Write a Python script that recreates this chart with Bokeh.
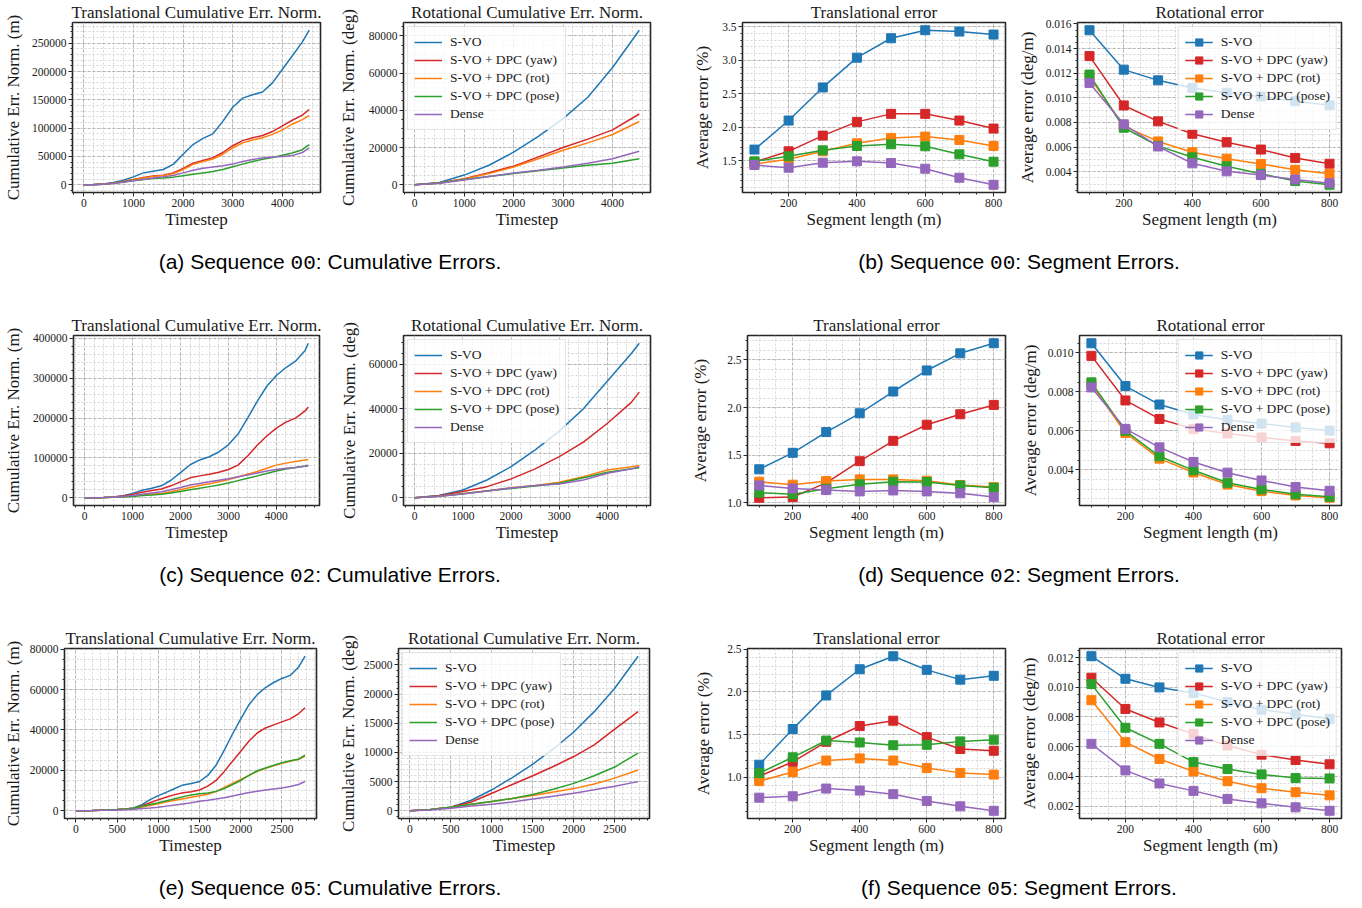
from bokeh.plotting import figure
from bokeh.layouts import row, column
from bokeh.models import Div, Range1d, SingleIntervalTicker, NumeralTickFormatter
from bokeh.embed import file_html
from bokeh.resources import INLINE

NAMES = ["S-VO", "S-VO + DPC (yaw)", "S-VO + DPC (rot)", "S-VO + DPC (pose)", "Dense"]
COLORS = ["#1f77b4", "#d62728", "#ff7f0e", "#2ca02c", "#9467bd"]

# ---------------- cumulative errors ----------------
T00_TRANS = [0, 200, 400, 600, 800, 1000, 1200, 1400, 1600, 1800, 2000, 2200, 2400, 2600, 2800,
             3000, 3200, 3400, 3600, 3800, 4000, 4200, 4400, 4540]
S00_TRANS_SVO = [0, 300, 1500, 4000, 8000, 14000, 21000, 24000, 27000, 36000, 54000, 71000, 82000, 90000,
                 112000, 137000, 153000, 159000, 164000, 180000, 204000, 228000, 252000, 273000]
S00_TRANS_YAW = [0, 300, 1200, 3000, 6000, 9500, 13000, 15500, 17000, 21000, 29000, 38000, 43000, 48000,
                 57000, 69000, 78000, 83000, 87000, 94000, 104000, 114000, 123000, 133000]
S00_TRANS_ROT = [0, 300, 1100, 2800, 5500, 9000, 12000, 14500, 16500, 19500, 27000, 36000, 41000, 45500,
                 54000, 65000, 74000, 79000, 83000, 89000, 97000, 107000, 115000, 122000]
S00_TRANS_POSE = [0, 200, 900, 2500, 5000, 7500, 9500, 11000, 12000, 13500, 16000, 18500, 21000, 23500,
                  27000, 32000, 36500, 41000, 45000, 48000, 52000, 56000, 62000, 71000]
S00_TRANS_DENSE = [0, 200, 900, 2500, 4500, 7000, 9500, 12000, 14000, 16500, 21000, 25500, 29000, 31500,
                   33500, 36500, 41000, 44500, 47500, 49000, 50000, 51500, 57000, 65000]

T00_ROT = [0, 500, 1000, 1500, 2000, 2500, 3000, 3500, 4000, 4540]
S00_ROT_SVO = [0, 1200, 5200, 10500, 17500, 26000, 35500, 47000, 63000, 83000]
S00_ROT_YAW = [0, 1000, 3300, 6500, 10000, 15000, 20000, 24500, 29500, 38000]
S00_ROT_ROT = [0, 900, 3100, 6000, 9500, 14000, 18500, 22500, 27000, 34000]
S00_ROT_POSE = [0, 900, 2800, 4500, 6000, 7500, 9000, 10500, 11500, 14000]
S00_ROT_DENSE = [0, 800, 2600, 4500, 6300, 7800, 9500, 11500, 14000, 18000]

T02_TRANS = [0, 200, 400, 600, 800, 1000, 1200, 1400, 1600, 1800, 2000, 2200, 2400, 2600, 2800,
             3000, 3200, 3400, 3600, 3800, 4000, 4200, 4400, 4600, 4667]
S02_TRANS_SVO = [0, 200, 800, 2000, 5000, 11000, 19000, 24000, 30000, 44000, 63000, 83000, 95000, 103000,
                 115000, 133000, 160000, 200000, 242000, 280000, 307000, 327000, 343000, 370000, 388000]
S02_TRANS_YAW = [0, 200, 700, 1800, 4500, 8500, 14000, 18000, 22000, 30000, 40000, 50000, 55000, 59000,
                 64000, 71000, 82000, 105000, 132000, 155000, 175000, 190000, 200000, 218000, 228000]
S02_TRANS_ROT = [0, 100, 500, 1200, 2500, 4500, 7000, 9000, 11000, 15000, 20000, 26000, 31000, 35000,
                 40000, 46000, 52000, 59000, 66000, 74000, 82000, 87000, 91000, 95000, 96000]
S02_TRANS_POSE = [0, 100, 400, 1000, 2000, 3500, 5500, 7000, 9000, 12000, 16000, 20000, 24000, 28000,
                  32000, 37000, 43000, 49000, 55000, 61000, 67000, 72000, 76000, 80000, 82000]
S02_TRANS_DENSE = [0, 100, 500, 1300, 3000, 5500, 9000, 12000, 15000, 20000, 26000, 32000, 36000, 40000,
                   44000, 48000, 53000, 57000, 62000, 67000, 71000, 74000, 76000, 79000, 80000]

T02_ROT = [0, 500, 1000, 1500, 2000, 2500, 3000, 3500, 4000, 4500, 4660]
S02_ROT_SVO = [0, 1000, 3500, 8000, 14000, 21500, 30000, 40000, 52500, 65000, 69500]
S02_ROT_YAW = [0, 900, 2800, 5000, 8500, 13000, 18500, 25000, 33500, 43000, 47500]
S02_ROT_ROT = [0, 700, 1800, 3200, 4500, 5500, 7000, 9500, 12500, 14000, 14500]
S02_ROT_POSE = [0, 700, 1800, 3000, 4200, 5300, 6500, 9000, 11500, 13000, 13500]
S02_ROT_DENSE = [0, 700, 1700, 3000, 4400, 5500, 6200, 8000, 11000, 13000, 14000]

T05_TRANS = [0, 100, 200, 300, 400, 500, 600, 700, 800, 900, 1000, 1100, 1200, 1300, 1400, 1500,
             1600, 1700, 1800, 1900, 2000, 2100, 2200, 2300, 2400, 2500, 2600, 2700, 2780]
S05_TRANS_SVO = [0, 50, 150, 300, 450, 600, 900, 1400, 3000, 5500, 7500, 9200, 11000, 12800, 13500, 14500,
                 17500, 22500, 30000, 38000, 45500, 52500, 57500, 61000, 63500, 65500, 67000, 71000, 76500]
S05_TRANS_YAW = [0, 50, 150, 300, 450, 600, 850, 1300, 2500, 4000, 5500, 6800, 8000, 8900, 9400, 10300,
                 12200, 15000, 19500, 24500, 29500, 34500, 38500, 41000, 42500, 44000, 45500, 48000, 51000]
S05_TRANS_ROT = [0, 50, 150, 300, 450, 600, 850, 1200, 1800, 2600, 3500, 4400, 5200, 6000, 6700, 7400,
                 8200, 9500, 11500, 13500, 15500, 17500, 19500, 21000, 22300, 23500, 24500, 25500, 27000]
S05_TRANS_POSE = [0, 50, 150, 300, 450, 600, 900, 1300, 2200, 3100, 4000, 5000, 6000, 7000, 7800, 8400,
                  8800, 9600, 11000, 13000, 15000, 17500, 19800, 21200, 22500, 23800, 24800, 25500, 27500]
S05_TRANS_DENSE = [0, 30, 100, 200, 300, 400, 550, 800, 1100, 1400, 1800, 2300, 2800, 3400, 4000, 4700,
                   5200, 5800, 6500, 7300, 8200, 9000, 9700, 10300, 10800, 11300, 12000, 13000, 14500]

T05_ROT = [0, 250, 500, 750, 1000, 1250, 1500, 1750, 2000, 2250, 2500, 2785]
S05_ROT_SVO = [0, 200, 600, 1800, 3600, 5700, 8000, 10600, 13500, 17000, 21000, 26500]
S05_ROT_YAW = [0, 200, 600, 1500, 3000, 4500, 6000, 7600, 9300, 11300, 14000, 17000]
S05_ROT_ROT = [0, 200, 600, 1100, 1600, 2100, 2600, 3200, 3800, 4600, 5600, 7000]
S05_ROT_POSE = [0, 200, 600, 1100, 1600, 2100, 2800, 3700, 4700, 6000, 7500, 9900]
S05_ROT_DENSE = [0, 150, 450, 800, 1100, 1500, 2000, 2500, 3000, 3600, 4200, 5000]

# ---------------- segment errors ----------------
SEG_LEN = [100, 200, 300, 400, 500, 600, 700, 800]

SEG00_TRANS_SVO = [1.666, 2.10, 2.595, 3.04, 3.33, 3.45, 3.43, 3.385]
SEG00_TRANS_YAW = [1.48, 1.64, 1.875, 2.08, 2.20, 2.20, 2.10, 1.98]
SEG00_TRANS_ROT = [1.45, 1.52, 1.64, 1.76, 1.84, 1.86, 1.81, 1.72]
SEG00_TRANS_POSE = [1.49, 1.565, 1.655, 1.72, 1.745, 1.715, 1.595, 1.485]
SEG00_TRANS_DENSE = [1.435, 1.395, 1.47, 1.49, 1.465, 1.38, 1.245, 1.14]

SEG00_ROT_SVO = [0.01549, 0.01229, 0.01142, 0.01079, 0.01041, 0.01011, 0.00973, 0.0094]
SEG00_ROT_YAW = [0.01339, 0.00938, 0.00809, 0.00708, 0.0064, 0.0058, 0.00512, 0.00465]
SEG00_ROT_ROT = [0.0117, 0.0077, 0.00646, 0.00558, 0.00506, 0.00463, 0.00416, 0.00384]
SEG00_ROT_POSE = [0.01189, 0.00757, 0.0061, 0.00517, 0.00444, 0.00384, 0.00324, 0.00294]
SEG00_ROT_DENSE = [0.0112, 0.00785, 0.00605, 0.00468, 0.00403, 0.00373, 0.00337, 0.00307]

SEG02_TRANS_SVO = [1.352, 1.525, 1.743, 1.94, 2.169, 2.39, 2.57, 2.676]
SEG02_TRANS_YAW = [1.053, 1.06, 1.21, 1.437, 1.651, 1.82, 1.93, 2.028]
SEG02_TRANS_ROT = [1.222, 1.19, 1.229, 1.246, 1.246, 1.232, 1.187, 1.165]
SEG02_TRANS_POSE = [1.106, 1.09, 1.148, 1.194, 1.222, 1.218, 1.183, 1.158]
SEG02_TRANS_DENSE = [1.183, 1.15, 1.134, 1.12, 1.13, 1.12, 1.10, 1.06]

SEG02_ROT_SVO = [0.0105, 0.0083, 0.00735, 0.00684, 0.00655, 0.00637, 0.00617, 0.00601]
SEG02_ROT_YAW = [0.00985, 0.00756, 0.00661, 0.0061, 0.00586, 0.00566, 0.00548, 0.00536]
SEG02_ROT_ROT = [0.0084, 0.00589, 0.00457, 0.00386, 0.00324, 0.0029, 0.00268, 0.00256]
SEG02_ROT_POSE = [0.00849, 0.006, 0.00469, 0.00397, 0.00333, 0.00299, 0.00274, 0.00261]
SEG02_ROT_DENSE = [0.00823, 0.0061, 0.00515, 0.0044, 0.00385, 0.00345, 0.00311, 0.00292]

SEG05_TRANS_SVO = [1.146, 1.565, 1.96, 2.267, 2.42, 2.26, 2.145, 2.19]
SEG05_TRANS_YAW = [1.01, 1.18, 1.415, 1.60, 1.663, 1.47, 1.33, 1.31]
SEG05_TRANS_ROT = [0.953, 1.06, 1.195, 1.22, 1.195, 1.107, 1.05, 1.03]
SEG05_TRANS_POSE = [1.047, 1.233, 1.43, 1.407, 1.375, 1.38, 1.42, 1.44]
SEG05_TRANS_DENSE = [0.759, 0.775, 0.866, 0.842, 0.80, 0.72, 0.657, 0.605]

SEG05_ROT_SVO = [0.01209, 0.01057, 0.00999, 0.00962, 0.00901, 0.00849, 0.00818, 0.00788]
SEG05_ROT_YAW = [0.01064, 0.00854, 0.00763, 0.00686, 0.00607, 0.00546, 0.0051, 0.00481]
SEG05_ROT_ROT = [0.00913, 0.0063, 0.00517, 0.00433, 0.00367, 0.0032, 0.00293, 0.00272]
SEG05_ROT_POSE = [0.01021, 0.00727, 0.00619, 0.00496, 0.00449, 0.00413, 0.00388, 0.00386]
SEG05_ROT_DENSE = [0.00619, 0.0044, 0.00352, 0.00302, 0.00248, 0.00218, 0.00191, 0.00168]

# ---------------- text ----------------
TITLE_TC = "Translational Cumulative Err. Norm."
TITLE_RC = "Rotational Cumulative Err. Norm."
TITLE_TS = "Translational error"
TITLE_RS = "Rotational error"
XLAB_T = "Timestep"
XLAB_S = "Segment length (m)"
YLAB_TC = "Cumulative Err. Norm. (m)"
YLAB_RC = "Cumulative Err. Norm. (deg)"
YLAB_TS = "Average error (%)"
YLAB_RS = "Average error (deg/m)"
CAP_LABELS = ["a", "b", "c", "d", "e", "f"]
SEQS = ["00", "02", "05"]
CAP_KINDS = ["Cumulative Errors.", "Segment Errors."]

SERIF = "Liberation Serif"
TXT = "#1a1a1a"
FIG_H = 231
TOP = 21
BOT = 38


def make_fig(title, xlabel, ylabel, xs, ys_list, w, bl, br, xt, xm, yt, ym, yfmt, ystand,
             legend=None, markers=False):
    xlo, xhi = min(xs), max(xs)
    xp = 0.05 * (xhi - xlo)
    ylo = min(min(y) for y in ys_list)
    yhi = max(max(y) for y in ys_list)
    yp = 0.05 * (yhi - ylo)
    p = figure(width=w, height=FIG_H, x_range=Range1d(xlo - xp, xhi + xp),
               y_range=Range1d(ylo - yp, yhi + yp), output_backend="svg",
               toolbar_location=None, min_border_left=bl, min_border_right=br,
               min_border_top=TOP, min_border_bottom=BOT, title=title)
    p.title.text_font = SERIF
    p.title.text_font_size = "17px"
    p.title.text_font_style = "normal"
    p.title.text_color = TXT
    p.title.align = "center"
    p.title.standoff = 1
    p.outline_line_color = "#262626"
    p.outline_line_width = 1.6
    p.background_fill_color = "white"
    p.border_fill_color = "white"

    xtick = SingleIntervalTicker(interval=xt, num_minor_ticks=xm)
    ytick = SingleIntervalTicker(interval=yt, num_minor_ticks=ym)
    p.xaxis.ticker = xtick
    p.yaxis.ticker = ytick
    p.xgrid.ticker = xtick
    p.ygrid.ticker = ytick
    p.xaxis.formatter = NumeralTickFormatter(format="0")
    p.yaxis.formatter = NumeralTickFormatter(format=yfmt)
    for ax in (p.xaxis, p.yaxis):
        ax.axis_line_color = None
        ax.major_tick_line_color = "#262626"
        ax.minor_tick_line_color = "#262626"
        ax.major_tick_out = 4
        ax.major_tick_in = 0
        ax.minor_tick_out = 2
        ax.minor_tick_in = 0
        ax.major_label_text_font = SERIF
        ax.major_label_text_font_size = "11.5px"
        ax.major_label_text_color = TXT
        ax.major_label_standoff = 2
        ax.axis_label_text_font = SERIF
        ax.axis_label_text_font_size = "17px"
        ax.axis_label_text_font_style = "normal"
        ax.axis_label_text_color = TXT
    p.xaxis.axis_label = xlabel
    p.yaxis.axis_label = ylabel
    p.xaxis.axis_label_standoff = 0
    p.yaxis.axis_label_standoff = ystand
    for g in (p.xgrid, p.ygrid):
        g.grid_line_color = "#a8a8a8"
        g.grid_line_dash = "3 2"
        g.grid_line_width = 0.8
        g.minor_grid_line_color = "#c4c4c4"
        g.minor_grid_line_dash = "2 2"
        g.minor_grid_line_width = 0.7

    for i, ys in enumerate(ys_list):
        kw = {}
        if legend:
            kw["legend_label"] = NAMES[i]
        p.line(xs, ys, line_color=COLORS[i], line_width=1.5, **kw)
        if markers:
            p.scatter(xs, ys, marker="square", size=9, fill_color=COLORS[i],
                      line_color=COLORS[i], **kw)
    if legend:
        lg = p.legend[0]
        lg.location = legend
        lg.margin = 4
        lg.padding = 6
        lg.spacing = 0
        lg.label_height = 18
        lg.glyph_height = 18
        lg.glyph_width = 28
        lg.label_standoff = 8
        lg.label_text_font = SERIF
        lg.label_text_font_size = "13.5px"
        lg.label_text_color = TXT
        lg.border_line_color = "#cccccc"
        lg.border_line_width = 1
        lg.background_fill_color = "white"
        lg.background_fill_alpha = 0.8
    return p


def caption(label, seq, kind, w, pad_left, h, pt):
    html = ('<div style="width:%dpx;box-sizing:border-box;padding-left:%dpx;padding-top:%dpx;'
            'text-align:center;font-family:\'Liberation Sans\',Arial,sans-serif;font-size:21px;'
            'line-height:24px;color:#000;white-space:nowrap;">(%s) Sequence '
            '<span style="font-family:\'Liberation Mono\',monospace;">%s</span>: %s</div>'
            % (w, pad_left, pt, label, seq, kind))
    return Div(text=html, width=w, height=h, margin=0)


# row 1 : sequence 00
a1 = make_fig(TITLE_TC, XLAB_T, YLAB_TC, T00_TRANS,
              [S00_TRANS_SVO, S00_TRANS_YAW, S00_TRANS_ROT, S00_TRANS_POSE, S00_TRANS_DENSE],
              335, 71, 15, 1000, 5, 50000, 5, "0", 6)
a2 = make_fig(TITLE_RC, XLAB_T, YLAB_RC, T00_ROT,
              [S00_ROT_SVO, S00_ROT_YAW, S00_ROT_ROT, S00_ROT_POSE, S00_ROT_DENSE],
              345, 68, 30, 1000, 5, 20000, 4, "0", 8, legend="top_left")
b1 = make_fig(TITLE_TS, XLAB_S, YLAB_TS, SEG_LEN,
              [SEG00_TRANS_SVO, SEG00_TRANS_YAW, SEG00_TRANS_ROT, SEG00_TRANS_POSE, SEG00_TRANS_DENSE],
              330, 62, 5, 200, 4, 0.5, 5, "0.0", 7, markers=True)
b2 = make_fig(TITLE_RS, XLAB_S, YLAB_RS, SEG_LEN,
              [SEG00_ROT_SVO, SEG00_ROT_YAW, SEG00_ROT_ROT, SEG00_ROT_POSE, SEG00_ROT_DENSE],
              346, 67, 15, 200, 4, 0.002, 4, "0.000", 6, legend="top_right", markers=True)

# row 2 : sequence 02
c1 = make_fig(TITLE_TC, XLAB_T, YLAB_TC, T02_TRANS,
              [S02_TRANS_SVO, S02_TRANS_YAW, S02_TRANS_ROT, S02_TRANS_POSE, S02_TRANS_DENSE],
              335, 72, 16, 1000, 5, 100000, 5, "0", 7)
c2 = make_fig(TITLE_RC, XLAB_T, YLAB_RC, T02_ROT,
              [S02_ROT_SVO, S02_ROT_YAW, S02_ROT_ROT, S02_ROT_POSE, S02_ROT_DENSE],
              345, 68, 30, 1000, 5, 20000, 4, "0", 7, legend="top_left")
d1 = make_fig(TITLE_TS, XLAB_S, YLAB_TS, SEG_LEN,
              [SEG02_TRANS_SVO, SEG02_TRANS_YAW, SEG02_TRANS_ROT, SEG02_TRANS_POSE, SEG02_TRANS_DENSE],
              330, 67, 5, 200, 4, 0.5, 5, "0.0", 14, markers=True)
d2 = make_fig(TITLE_RS, XLAB_S, YLAB_RS, SEG_LEN,
              [SEG02_ROT_SVO, SEG02_ROT_YAW, SEG02_ROT_ROT, SEG02_ROT_POSE, SEG02_ROT_DENSE],
              346, 69, 15, 200, 4, 0.002, 4, "0.000", 5, legend="top_right", markers=True)

# row 3 : sequence 05
e1 = make_fig(TITLE_TC, XLAB_T, YLAB_TC, T05_TRANS,
              [S05_TRANS_SVO, S05_TRANS_YAW, S05_TRANS_ROT, S05_TRANS_POSE, S05_TRANS_DENSE],
              335, 64, 19, 500, 5, 20000, 4, "0", 4)
e2 = make_fig(TITLE_RC, XLAB_T, YLAB_RC, T05_ROT,
              [S05_ROT_SVO, S05_ROT_YAW, S05_ROT_ROT, S05_ROT_POSE, S05_ROT_DENSE],
              345, 63, 31, 500, 5, 5000, 5, "0", 3, legend="top_left")
f1 = make_fig(TITLE_TS, XLAB_S, YLAB_TS, SEG_LEN,
              [SEG05_TRANS_SVO, SEG05_TRANS_YAW, SEG05_TRANS_ROT, SEG05_TRANS_POSE, SEG05_TRANS_DENSE],
              330, 67, 5, 200, 4, 0.5, 5, "0.0", 11, markers=True)
f2 = make_fig(TITLE_RS, XLAB_S, YLAB_RS, SEG_LEN,
              [SEG05_ROT_SVO, SEG05_ROT_YAW, SEG05_ROT_ROT, SEG05_ROT_POSE, SEG05_ROT_DENSE],
              346, 69, 15, 200, 4, 0.002, 4, "0.000", 6, legend="top_right", markers=True)

cap_heights = [82, 82, 48]
caps = []
for k in range(3):
    caps.append(row(
        caption(CAP_LABELS[2 * k], SEQS[k], CAP_KINDS[0], 660, 0, cap_heights[k], 19),
        caption(CAP_LABELS[2 * k + 1], SEQS[k], CAP_KINDS[1], 700, 18, cap_heights[k], 19),
    ))

layout = column(
    row(a1, a2, b1, b2), caps[0],
    row(c1, c2, d1, d2), caps[1],
    row(e1, e2, f1, f2), caps[2],
)

open("out.html", "w").write(file_html(layout, INLINE))
